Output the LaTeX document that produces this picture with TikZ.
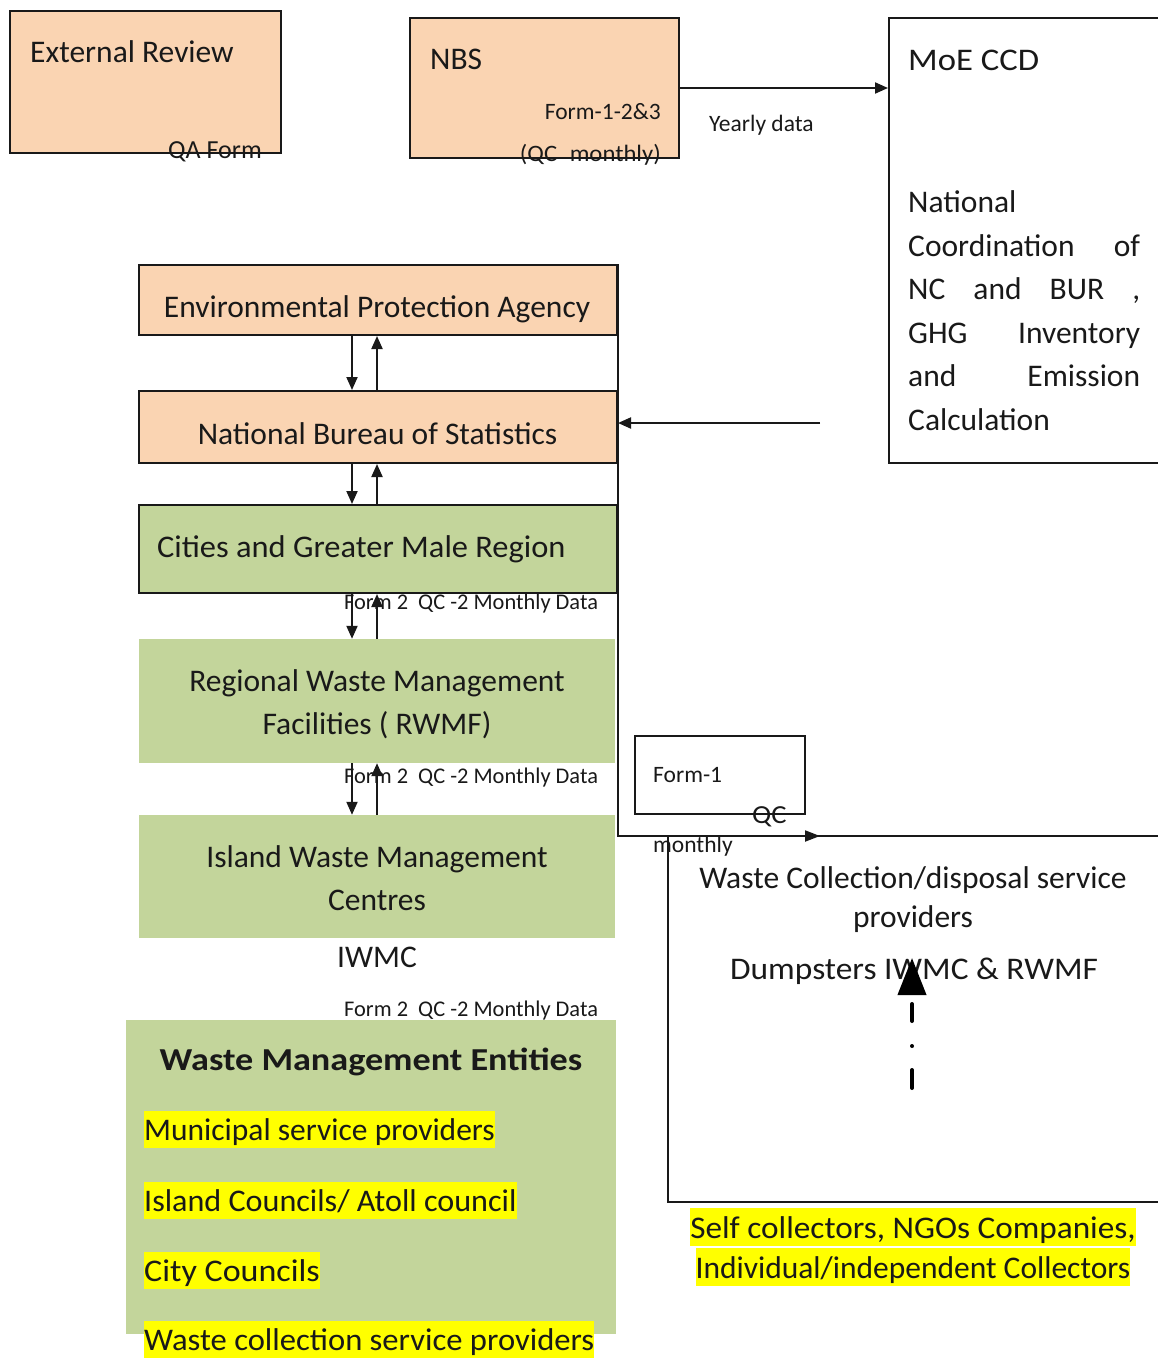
\documentclass[tikz,border=0pt]{standalone}
\usepackage{fontspec}
\setmainfont{Carlito}
\usetikzlibrary{arrows.meta,calc}
\definecolor{peach}{RGB}{250,212,178}
\definecolor{olive}{RGB}{195,213,155}
\definecolor{hl}{RGB}{255,255,0}
\definecolor{ink}{RGB}{25,25,25}
\begin{document}
\begin{tikzpicture}[x=1pt,y=-1pt,
  boxline/.style={draw=ink,line width=2pt,inner sep=0pt},
  pbox/.style={boxline,fill=peach},
  gbox/.style={boxline,fill=olive},
  gfill/.style={fill=olive,inner sep=0pt},
  wbox/.style={boxline,fill=white},
  big/.style={font=\fontsize{31.5pt}{38pt}\selectfont,inner sep=0pt,text=ink},
  bigb/.style={font=\fontsize{32pt}{38pt}\selectfont\bfseries,inner sep=0pt,text=ink},
  small/.style={font=\fontsize{23.5pt}{28pt}\selectfont,inner sep=0pt,text=ink},
  smallx/.style={font=\fontsize{26pt}{30pt}\selectfont,inner sep=0pt,text=ink},
  tiny/.style={font=\fontsize{22.4pt}{26pt}\selectfont,inner sep=0pt,text=ink},
  hlt/.style={big,fill=hl,text height=29pt,text depth=8pt},
  hlt2/.style={big,fill=hl,text height=30pt,text depth=8pt},
  conn/.style={draw=ink,line width=2pt},
  arr/.style={conn,-{Triangle[length=13pt,width=11pt]}},
]
\useasboundingbox (0,0) rectangle (1157,1359);

% ---------- boxes ----------
\node[pbox,minimum width=271pt,minimum height=142pt] (ext) at (145.5,82) {};
\node[pbox,minimum width=269pt,minimum height=140pt] (nbsf) at (544.5,88) {};
\node[wbox,minimum width=271pt,minimum height=445pt] (moe) at (1024.5,240.5) {};
\node[pbox,minimum width=478pt,minimum height=70pt] (epa) at (378,300) {};
\node[pbox,minimum width=478pt,minimum height=72pt] (nbsl) at (378,427) {};
\node[gbox,minimum width=478pt,minimum height=88pt] (city) at (378,549) {};
\node[gfill,minimum width=476pt,minimum height=124pt] (rwmf) at (377,701) {};
\node[gfill,minimum width=476pt,minimum height=123pt] (iwmc) at (377,876.5) {};
\node[gfill,minimum width=490pt,minimum height=314pt] (wme) at (371,1177) {};
\node[wbox,minimum width=170pt,minimum height=78pt] (form1) at (720,775) {};
\node[wbox,minimum width=492pt,minimum height=366pt] (wcd) at (914,1019) {};

% ---------- texts ----------
\node[big,anchor=base west] (t-ext) at (30,63) {External Review};
\node[smallx,anchor=base west] (t-qa) at (168,159) {QA Form};
\node[big,anchor=base west] (t-nbs) at (430,70) {NBS};
\node[small,anchor=base east] (t-f123) at (661,120) {Form-1-2\&3};
\node[small,anchor=base east] (t-qcm) at (661,162) {\scalebox{1.05}[1]{(QC\hspace{12pt}monthly)}};
\node[small,anchor=base west] (t-yd) at (709,132) {Yearly data};

\node[big,anchor=base west] (t-moe) at (908,71) {\scalebox{1.1}[1]{MoE CCD}};
\node[big,anchor=base west] (t-moe1) at (908,212) {National};
\node[big,anchor=base west] (t-moe2) at (908,256) {\makebox[232pt][s]{Coordination of}};
\node[big,anchor=base west] (t-moe3) at (908,299) {\makebox[232pt][s]{NC and BUR ,}};
\node[big,anchor=base west] (t-moe4) at (908,343) {\makebox[232pt][s]{GHG Inventory}};
\node[big,anchor=base west] (t-moe5) at (908,386) {\makebox[232pt][s]{and Emission}};
\node[big,anchor=base west] (t-moe6) at (908,430) {Calculation};

\node[big,anchor=base] (t-epa) at (377,317) {Environmental Protection Agency};
\node[big,anchor=base] (t-nbsl) at (377.5,444) {National Bureau of Statistics};
\node[big,anchor=base west] (t-city) at (157,557) {\scalebox{1.03}[1]{Cities and Greater Male Region}};
\node[tiny,anchor=base west] (t-f2a) at (344,609) {Form 2\ \ QC -2 Monthly Data};
\node[big,anchor=base] (t-rw1) at (377,691) {Regional Waste Management};
\node[big,anchor=base] (t-rw2) at (377,734) {Facilities ( RWMF)};
\node[tiny,anchor=base west] (t-f2b) at (344,783) {Form 2\ \ QC -2 Monthly Data};
\node[big,anchor=base] (t-iw1) at (377,867) {Island Waste Management};
\node[big,anchor=base] (t-iw2) at (377,910) {Centres};
\node[big,anchor=base] (t-iwmc) at (377,967) {IWMC};
\node[tiny,anchor=base west] (t-f2c) at (344,1016) {Form 2\ \ QC -2 Monthly Data};

\node[bigb,anchor=base] (t-wme) at (371,1070) {\scalebox{1.13}[1]{Waste Management Entities}};
\node[hlt,anchor=base west] (t-e1) at (144,1140) {Municipal service providers};
\node[hlt,anchor=base west] (t-e2) at (144,1211) {\scalebox{1.02}[1]{Island Councils/ Atoll council}};
\node[hlt,anchor=base west] (t-e3) at (144,1281) {\scalebox{1.08}[1]{City Councils}};
\node[hlt,anchor=base west] (t-e4) at (144,1350) {\scalebox{1.035}[1]{Waste collection service providers}};

\node[small,anchor=base west] (t-fm1) at (653,782) {Form-1};
\node[smallx,anchor=base west] (t-qc) at (752,823) {\scalebox{1.1}[1]{QC}};
\node[small,anchor=base west] (t-mon) at (653,852) {monthly};

\node[big,anchor=base] (t-wcd1) at (913,888) {Waste Collection/disposal service};
\node[big,anchor=base] (t-wcd2) at (913,927) {providers};
\node[big,anchor=base] (t-dump) at (914,979) {\scalebox{1.06}[1]{Dumpsters IWMC \& RWMF}};

\node[hlt2,anchor=base] (t-self1) at (913,1238) {\scalebox{1.055}[1]{Self collectors, NGOs Companies,}};
\node[hlt2,anchor=base] (t-self2) at (913,1278) {Individual/independent Collectors};

% ---------- connectors ----------
\coordinate (dn) at (352,0);
\coordinate (up) at (377,0);
\foreach \a/\b in {epa/nbsl,nbsl/city,city/rwmf,rwmf/iwmc}{
  \draw[arr] (\a.south -| dn) -- (\b.north -| dn);
  \draw[arr] (\b.north -| up) -- (\a.south -| up);
}
\draw[arr] (nbsf.east) -- (nbsf.east -| moe.west);
\coordinate (src) at (820,423);
\draw[arr] (src) -- (src -| nbsl.east);
\coordinate (qa) at (820,836);
\draw[arr,-{Triangle[length=15pt,width=11pt]}] (epa.north east) |- (qa);

\coordinate (ddA) at (912,1088);
\coordinate (ddB) at (912,958);
\draw[draw=black,line width=4pt,line cap=round,
      dash pattern=on 18pt off 24pt on 0pt off 25pt on 17pt off 40pt,
      -{Triangle[length=37pt,width=28pt]}] (ddA) -- (ddB);
\end{tikzpicture}
\end{document}
